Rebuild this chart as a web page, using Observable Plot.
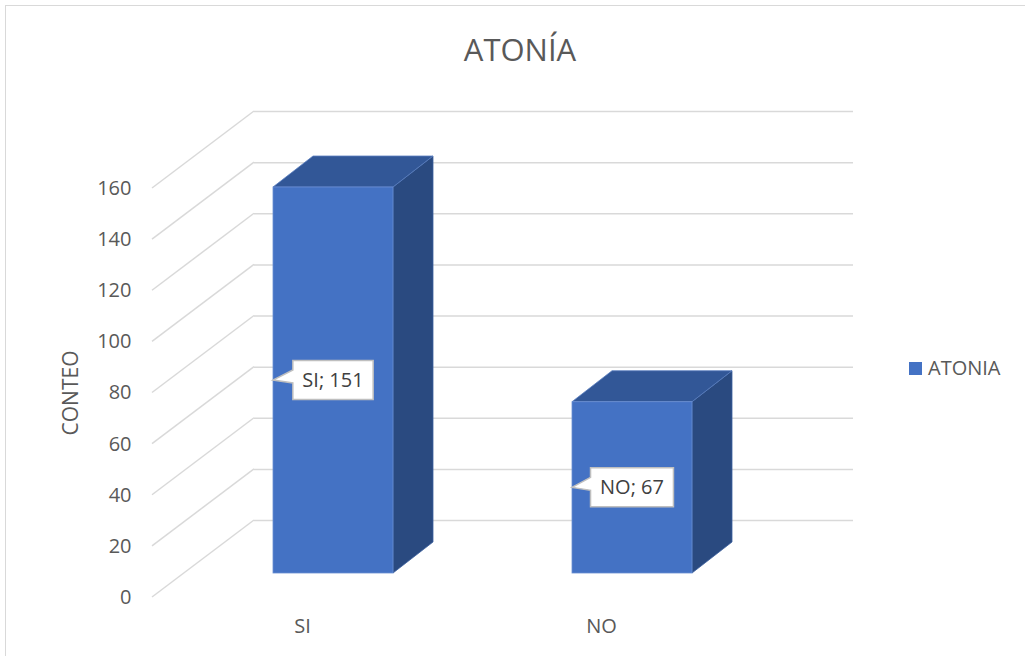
<!DOCTYPE html>
<html>
<head>
<meta charset="utf-8">
<script src="https://cdn.jsdelivr.net/npm/d3@7"></script>
<script src="https://cdn.jsdelivr.net/npm/@observablehq/plot@0.6"></script>
<style>
  html, body { margin: 0; padding: 0; background: #fff; overflow: hidden; width: 1025px; height: 656px; }
  body { position: relative; font-family: "Open Sans", sans-serif; }
  #frame { position: absolute; left: 5px; top: 5px; width: 1100px; height: 700px; border: 1.5px solid #d9d9d9; box-sizing: border-box; }
  #title { position: absolute; top: 34px; left: 0; width: 1040px; text-align: center; font-size: 31px; line-height: 31px; color: #595959; }
  #chart { position: absolute; left: 0; top: 90px; }
  #legend { position: absolute; left: 909px; top: 358px; font-size: 20px; line-height: 20px; color: #595959; white-space: nowrap; }
  #legend .sw { display: inline-block; width: 13px; height: 13px; background: #4472C4; margin-right: 6px; vertical-align: 0px; }
</style>
</head>
<body>
<div id="frame"></div>
<div id="title"></div>
<div id="chart"></div>
<div id="legend"></div>
<script>
// ---- data ----
const chartTitle = "ATONÍA";
const seriesName = "ATONIA";
const yLabel = "CONTEO";
const categories = ["SI", "NO"];
const values = [151, 67];
const yTicks = [0, 20, 40, 60, 80, 100, 120, 140, 160];

// ---- 3D projection offsets (pixels) ----
const DEPTH = {dx: 102, dy: -77};     // full depth of the floor
const BAR_OFF = {dx: 31, dy: -24};    // front face of bars from the front plane
const BAR_DEPTH = {dx: 40, dy: -31};  // bar depth
const FRONT = "#4472C4", TOP = "#325797", SIDE = "#2A4A80";

const data = categories.map((c, i) => ({cat: c, value: values[i]}));

document.getElementById("title").textContent = chartTitle;
document.getElementById("legend").innerHTML = `<span class="sw"></span>${seriesName}`;

const bw = (x) => typeof x.bandwidth === "function" ? x.bandwidth() : x.bandwidth;
const ctx = document.createElement("canvas").getContext("2d");
ctx.font = '20px "Open Sans"';

const sideWall = (index, scales, values, dims) => {
  const {y} = scales;
  const g = d3.create("svg:g");
  for (const t of yTicks) {
    const py = y(t);
    g.append("line")
      .attr("x1", dims.marginLeft).attr("y1", py)
      .attr("x2", dims.marginLeft + DEPTH.dx).attr("y2", py + DEPTH.dy)
      .attr("stroke", "#d9d9d9").attr("stroke-width", 1.5);
  }
  return g.node();
};

const bars3d = (index, scales) => {
  const {x, y} = scales;
  const w = bw(x);
  const g = d3.create("svg:g");
  const pts = (a) => a.map(p => p.join(",")).join(" ");
  for (const d of data) {
    const x0 = x(d.cat) + BAR_OFF.dx, x1 = x0 + w;
    const yb = y(0) + BAR_OFF.dy, yt = y(d.value) + BAR_OFF.dy;
    const {dx, dy} = BAR_DEPTH;
    g.append("polygon").attr("points", pts([[x1, yt], [x1 + dx, yt + dy], [x1 + dx, yb + dy], [x1, yb]]))
      .attr("fill", SIDE).attr("stroke", "#3b5f9e").attr("stroke-width", 0.8);
    g.append("polygon").attr("points", pts([[x0, yt], [x0 + dx, yt + dy], [x1 + dx, yt + dy], [x1, yt]]))
      .attr("fill", TOP).attr("stroke", "#5a7fc0").attr("stroke-width", 0.8);
    g.append("rect").attr("x", x0).attr("y", yt).attr("width", w).attr("height", yb - yt)
      .attr("fill", FRONT).attr("stroke", "#6a8fd3").attr("stroke-width", 0.8);
  }
  return g.node();
};

const callouts = (index, scales) => {
  const {x, y} = scales;
  const w = bw(x);
  const g = d3.create("svg:g");
  for (const d of data) {
    const label = `${d.cat}; ${d.value}`;
    const tw = ctx.measureText(label).width;
    const barLeft = x(d.cat) + BAR_OFF.dx;
    const cx = barLeft + w / 2;
    const cy = y(d.value / 2) + BAR_OFF.dy;
    const bwid = tw + 19, bh = 39;
    const L = cx - bwid / 2, R = cx + bwid / 2, T = cy - bh / 2, B = cy + bh / 2;
    const path = `M${L},${T}H${R}V${B}H${L}V${cy + 3}L${barLeft},${cy}L${L},${cy - 10}Z`;
    g.append("path").attr("d", path).attr("fill", "#fff").attr("stroke", "#bfbfbf").attr("stroke-width", 1.5);
    g.append("text").attr("x", cx).attr("y", cy).attr("dy", "0.35em")
      .attr("text-anchor", "middle").attr("font-size", 20).attr("fill", "#404040")
      .text(label);
  }
  return g.node();
};

const chart = Plot.plot({
  width: 1025,
  height: 566,
  marginLeft: 152,
  marginRight: 274,
  marginTop: 98,
  marginBottom: 59,
  style: {fontFamily: '"Open Sans", sans-serif', fontSize: "20px", color: "#595959", background: "transparent", overflow: "visible"},
  x: {type: "band", domain: categories, paddingInner: 0.6, paddingOuter: 0.3, tickSize: 0, tickPadding: 21, label: null},
  y: {domain: [0, 160], ticks: yTicks, tickSize: 0, tickPadding: 21, label: null},
  marks: [
    Plot.ruleY(yTicks, {dx: DEPTH.dx, dy: DEPTH.dy, stroke: "#d9d9d9", strokeWidth: 1.5}),
    sideWall,
    bars3d,
    callouts,
    Plot.text([yLabel], {text: d => d, frameAnchor: "left", textAnchor: "middle", rotate: -90, dx: -81, fontSize: 21, fill: "#595959"})
  ]
});
document.getElementById("chart").appendChild(chart);
</script>
</body>
</html>
